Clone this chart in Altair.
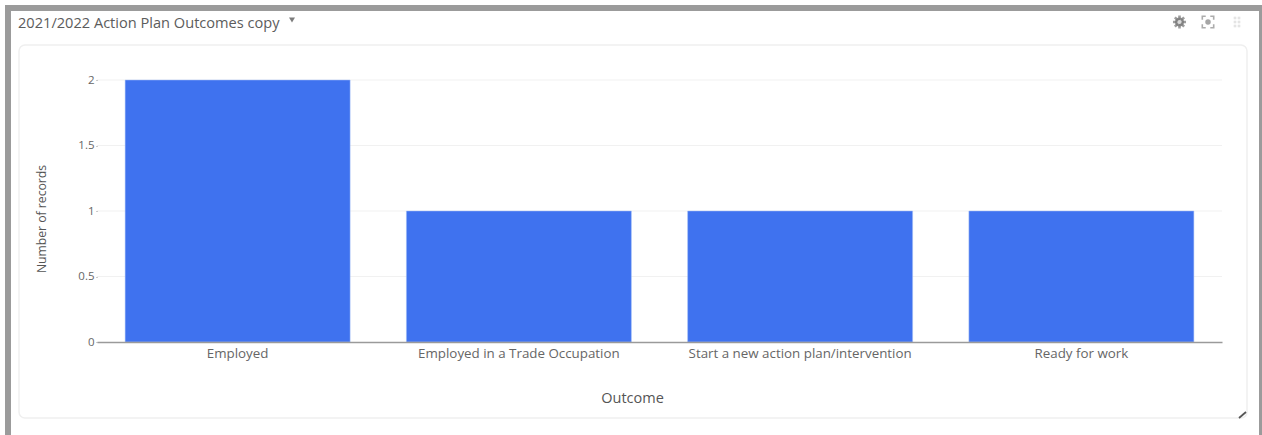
import altair as alt
import pandas as pd

# Dashboard widget values
outcomes = ["Employed", "Employed in a Trade Occupation",
            "Start a new action plan/intervention", "Ready for work"]
records = [2, 1, 1, 1]
y_ticks = [0, 0.5, 1, 1.5, 2]
widget_title = "2021/2022 Action Plan Outcomes copy"

# Plot area placement inside the page
LEFT, TOP, PLOT_W, PLOT_H = 97, 80, 1125, 262
FONT = "Open Sans"
one = pd.DataFrame({"n": [0]})


def px(v):
    return alt.value(v - LEFT)


def py(v):
    return alt.value(v - TOP)


def box(x0, y0, x1, y1, **style):
    return alt.Chart(one).mark_rect(**style).encode(
        x=px(x0), x2=px(x1), y=py(y0), y2=py(y1))


def icon(x, y, shape, size, **style):
    return alt.Chart(one).mark_point(shape=shape, size=size, **style).encode(
        x=px(x), y=py(y))


# Widget frame and card
frame = [
    box(5, 5, 1262, 11, fill="#9b9b9b"),
    box(5, 5, 11, 435, fill="#9b9b9b"),
    box(1259, 5, 1262, 435, fill="#9b9b9b"),
    box(19, 45, 1247, 418, fill="#ffffff", stroke="#efefef", strokeWidth=1.5,
        cornerRadius=6),
]

# Header
header_title = alt.Chart(one).mark_text(
    text=widget_title, font=FONT, fontSize=14.6, color="#5c5c5c", align="left",
    baseline="middle").encode(x=px(18), y=py(24))
caret = icon(292, 20, "triangle-down", 36, fill="#444444", filled=True, stroke=None)

# Gear, focus and drag-handle glyphs on the right of the header
gear_teeth = ("M-.2 -1H.2V1H-.2Z M-1 -.2H1V.2H-1Z "
              "M-.85 -.57L-.57 -.85L.85 .57L.57 .85Z "
              "M.85 -.57L.57 -.85L-.85 .57L-.57 .85Z")
focus_corners = "M-1 -.4V-1H-.4 M.4 -1H1V-.4 M1 .4V1H.4 M-.4 1H-1V.4"
icons = [
    icon(1179.5, 22, gear_teeth, 170, fill="#757575", filled=True, stroke=None),
    icon(1179.5, 22, "circle", 85, fill="#757575", filled=True, stroke=None),
    icon(1179.5, 22, "circle", 18, fill="#ffffff", filled=True, stroke=None),
    icon(1208, 22, focus_corners, 130, stroke="#8a8a8a", strokeWidth=1.6, filled=False),
    icon(1208, 22, "circle", 30, fill="#808080", filled=True, stroke=None),
]
for gx in (1235, 1239):
    for gy in (18, 22, 26):
        icons.append(icon(gx, gy, "square", 7, fill="#d8d8d8", filled=True, stroke=None))

# Resize handle in the card's corner
resize = alt.Chart(one).mark_rule(stroke="#555555", strokeWidth=1.8).encode(
    x=px(1239), x2=px(1246), y=py(418), y2=py(412))

# Value axis shared by the gridlines and the bars
y_enc = alt.Y("records:Q", title="Number of records",
              scale=alt.Scale(domain=[0, 2], nice=False),
              axis=alt.Axis(values=y_ticks, format="~g", labelFont=FONT, labelFontSize=11.5,
                            labelColor="#666666", labelPadding=2, domain=False, grid=False,
                            tickSize=1, tickColor="#9a9a9a", labelBaseline="middle",
                            titleFont=FONT, titleFontSize=12.2, titleFontWeight="normal",
                            titleColor="#555555", titleX=-49, titleY=138.5, zindex=1))

# Horizontal gridlines
grid = alt.Chart(pd.DataFrame({"records": y_ticks[1:]})).mark_rule(
    stroke="#f1f1f1", strokeWidth=1).encode(y=y_enc)

# Bars with both axes
data = pd.DataFrame({"outcome": outcomes, "records": records})
bars = alt.Chart(data).mark_bar(color="#3f72ef", stroke="#a9c2f7", strokeWidth=0.5).encode(
    x=alt.X("outcome:N", sort=None, title="Outcome",
            scale=alt.Scale(paddingInner=0.2, paddingOuter=0.1),
            axis=alt.Axis(labelAngle=0, labelFont=FONT, labelFontSize=13.35, labelLimit=280,
                          labelColor="#666666", labelPadding=4, ticks=False,
                          domainColor="#9a9a9a", domainWidth=1.5, grid=False,
                          titleFont=FONT, titleFontSize=14.5, titleFontWeight="normal",
                          titleColor="#555555", titleX=535, titleY=49, zindex=1)),
    y=y_enc,
)

chart = alt.layer(*frame, header_title, caret, *icons, resize, grid, bars).properties(
    width=PLOT_W, height=PLOT_H,
    padding={"left": LEFT, "top": TOP, "right": 1262 - LEFT - PLOT_W,
             "bottom": 435 - TOP - PLOT_H},
    autosize=alt.AutoSizeParams(type="none"),
    background="#ffffff",
).configure_view(stroke=None)

chart.save("out.html", embed_options={"renderer": "svg", "actions": False})
